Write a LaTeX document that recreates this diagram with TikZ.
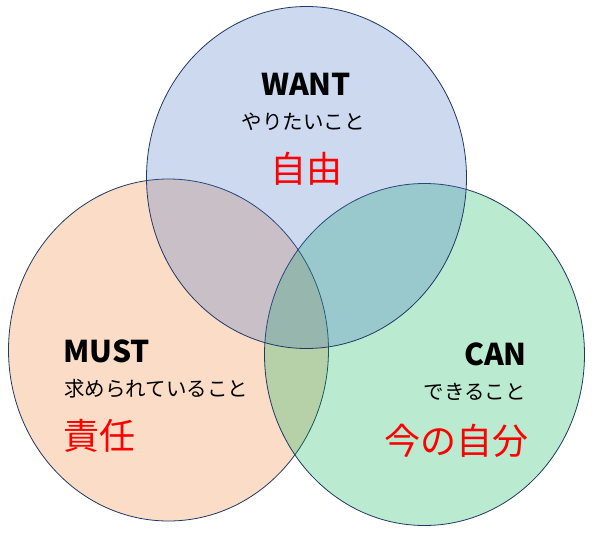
\documentclass[tikz,border=0pt]{standalone}
\usepackage{fontspec}
\setmainfont{Noto Sans CJK JP}
\definecolor{cblue}{HTML}{4472C4}
\definecolor{corange}{HTML}{ED7D31}
\definecolor{cgreen}{HTML}{00B050}
\definecolor{cline}{HTML}{203864}
\definecolor{cred}{HTML}{FF0000}
\tikzset{
  venn/.style={draw=cline, line width=0.8pt, fill opacity=0.27},
  head/.style={inner sep=0pt, font=\fontsize{30}{35}\selectfont\bfseries},
  sub/.style={inner sep=0pt, font=\fontsize{20.5}{24}\selectfont},
  key/.style={inner sep=0pt, text=cred, font=\fontsize{36}{42}\selectfont}
}
\begin{document}
\begin{tikzpicture}[x=1pt,y=-1pt]
\useasboundingbox (0,0) rectangle (600,541);
\draw[venn, fill=corange] (168.5,350) ellipse [x radius=160pt, y radius=171pt];
\draw[venn, fill=cgreen] (424.5,354.5) ellipse [x radius=160pt, y radius=171pt];
\draw[venn, fill=cblue] (306.5,177.5) ellipse [x radius=160pt, y radius=171pt];
\node[head, anchor=base] (want) at (306,95) {WANT};
\node[sub, anchor=base] (wantsub) at (303,129) {やりたいこと};
\node[key, anchor=base] (wantkey) at (306,182) {自由};
\node[head, anchor=base west] (must) at (63,362) {MUST};
\node[sub, anchor=base west] (mustsub) at (64,396) {求められていること};
\node[key, anchor=base west] (mustkey) at (63,449) {責任};
\node[head, anchor=base east] (can) at (527,365) {CAN};
\node[sub, anchor=base east] (cansub) at (526,399) {できること};
\node[key, anchor=base east] (cankey) at (529,454) {今の自分};
\end{tikzpicture}
\end{document}
